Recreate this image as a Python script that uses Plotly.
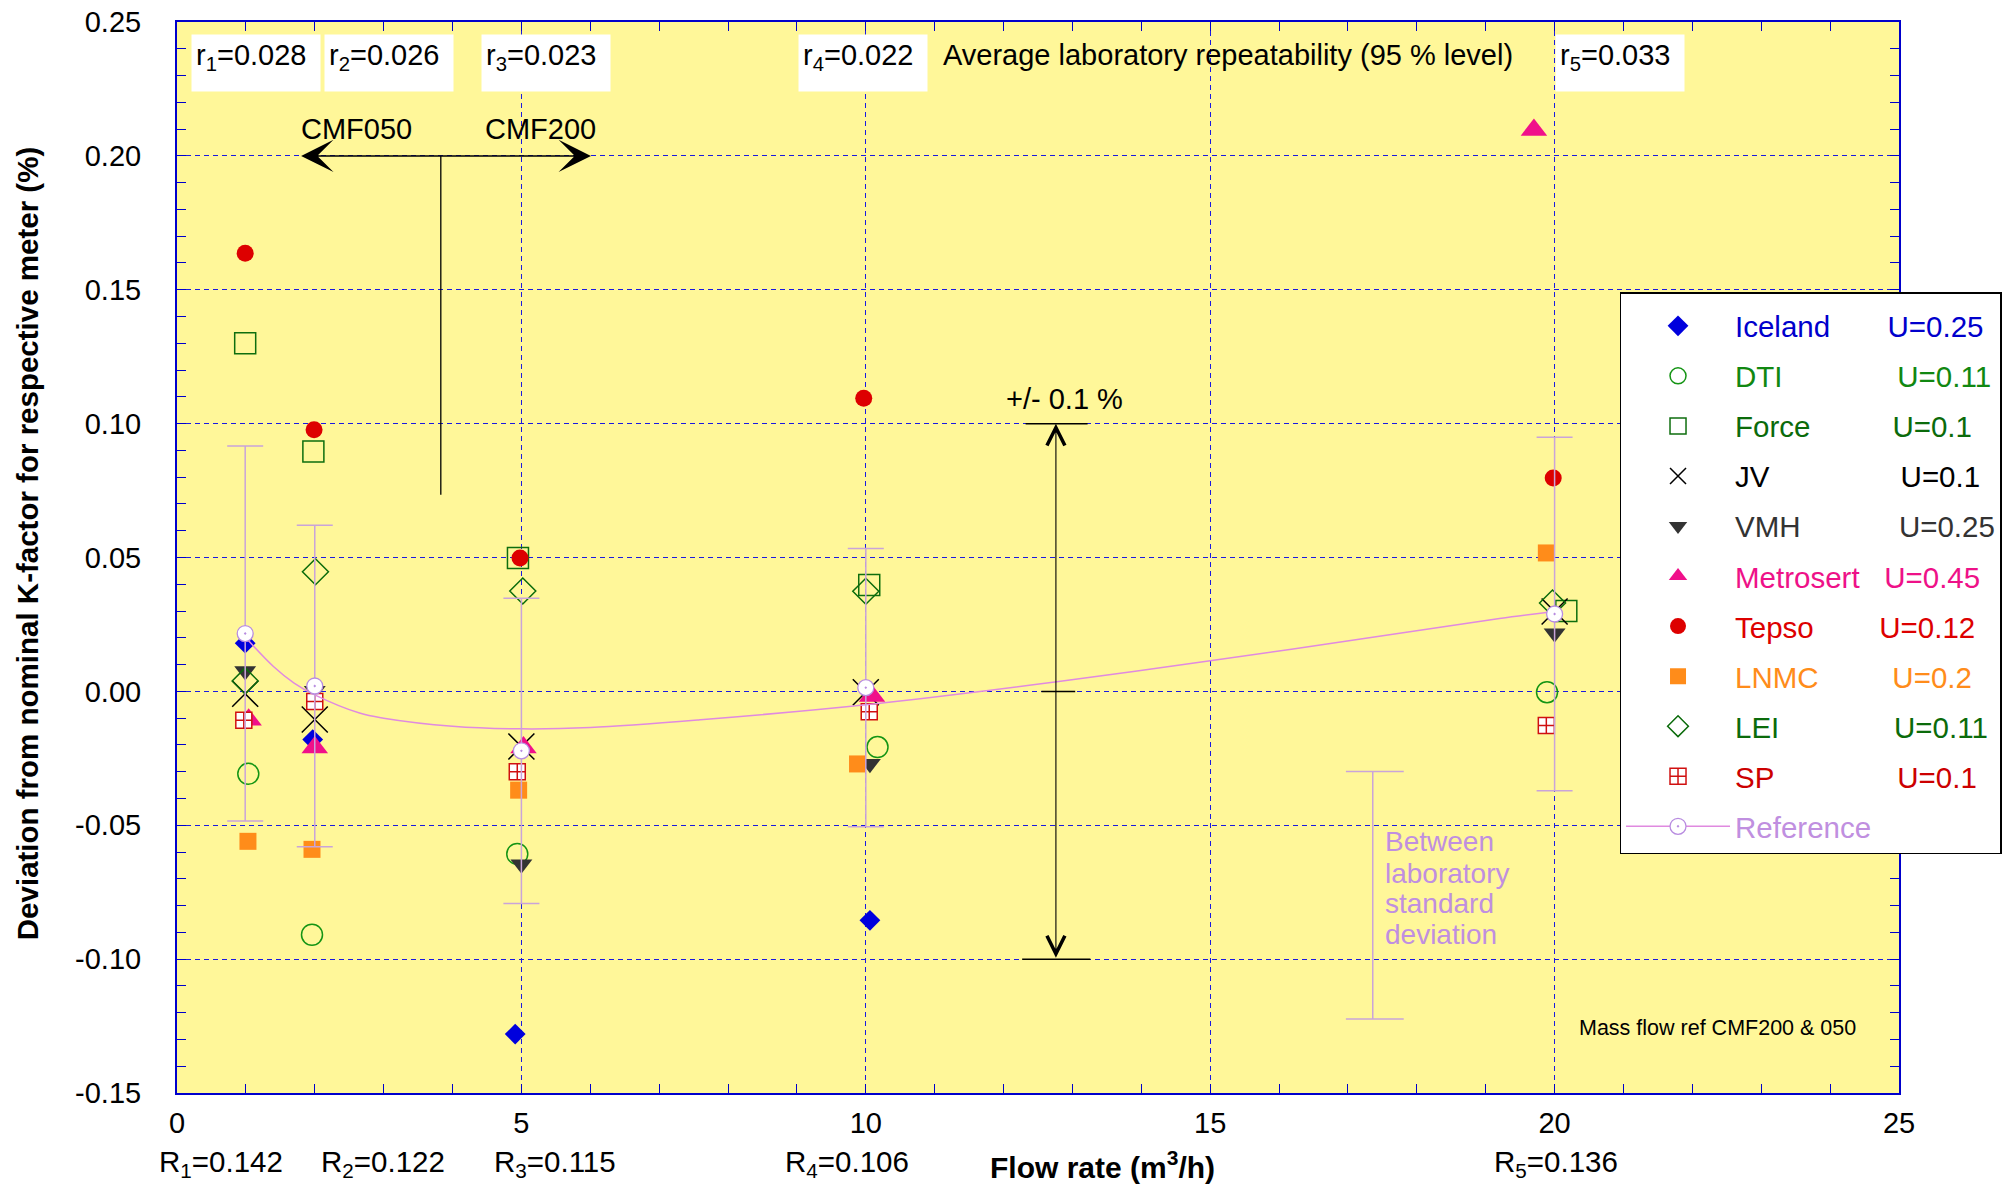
import plotly.graph_objects as go

FONT = "Liberation Sans, Arial, Helvetica, sans-serif"

# ---------------- data ----------------
labs = ["Iceland", "DTI", "Force", "JV", "VMH", "Metrosert", "Tepso", "LNMC", "LEI", "SP"]
lab_u = ["U=0.25", "U=0.11", "U=0.1", "U=0.1", "U=0.25", "U=0.45", "U=0.12", "U=0.2", "U=0.11", "U=0.1"]

iceland_x = [0.99, 1.97, 4.91, 10.06]
iceland_y = [0.018, -0.018, -0.128, -0.0855]
dti_x = [1.035, 1.96, 4.94, 10.17, 19.89]
dti_y = [-0.0308, -0.0909, -0.0607, -0.0208, -0.0003]
force_x = [0.99, 1.98, 4.95, 10.05, 20.17]
force_y = [0.130, 0.0896, 0.0498, 0.0397, 0.030]
jv_x = [0.99, 2.0, 5.0, 10.0, 20.0]
jv_y = [-0.0009, -0.0105, -0.0206, -0.0003, 0.0298]
vmh_x = [0.99, 2.0, 5.0, 10.06, 20.0]
vmh_y = [0.0076, 0.0002, -0.0646, -0.027, 0.0217]
metrosert_x = [1.04, 2.0, 5.03, 10.09, 19.70]
metrosert_y = [-0.0106, -0.021, -0.021, -0.0017, 0.2097]
tepso_x = [0.99, 1.99, 4.98, 9.97, 19.98]
tepso_y = [0.1636, 0.0977, 0.0498, 0.1095, 0.0797]
lnmc_x = [1.03, 1.96, 4.96, 9.88, 19.88]
lnmc_y = [-0.056, -0.059, -0.0369, -0.0271, 0.0517]
lei_x = [0.99, 2.01, 5.02, 10.0, 19.97]
lei_y = [0.0039, 0.0447, 0.0375, 0.0374, 0.033]
sp_x = [0.97, 2.0, 4.94, 10.05, 19.88]
sp_y = [-0.0108, -0.0038, -0.030, -0.0076, -0.0127]

ref_x = [0.99, 2.0, 5.0, 10.0, 20.0]
ref_y = [0.0216, 0.002, -0.0222, 0.0014, 0.0289]
ref_sd = [0.070, 0.060, 0.057, 0.052, 0.066]

curve_x = [1.0, 1.4, 1.7, 2.0, 2.65, 3.0, 4.0, 5.0, 6.0, 7.6, 10.0, 12.8, 15.0, 17.75, 19.2, 20.0]
curve_y = [0.020, 0.0093, 0.0031, -0.0013, -0.0081, -0.0100, -0.0130, -0.0140, -0.0135,
           -0.0106, -0.0050, 0.0037, 0.0114, 0.0217, 0.0272, 0.0298]

x_ticks = [0, 5, 10, 15, 20, 25]
x_ticktext = ["0", "5", "10", "15", "20", "25"]
y_ticks = [-0.15, -0.10, -0.05, 0.0, 0.05, 0.10, 0.15, 0.20, 0.25]
y_ticktext = ["-0.15", "-0.10", "-0.05", "0.00", "0.05", "0.10", "0.15", "0.20", "0.25"]

repeat_labels = ["r<sub>1</sub>=0.028", "r<sub>2</sub>=0.026", "r<sub>3</sub>=0.023",
                 "r<sub>4</sub>=0.022", "r<sub>5</sub>=0.033"]
repro_labels = ["R<sub>1</sub>=0.142", "R<sub>2</sub>=0.122", "R<sub>3</sub>=0.115",
                "R<sub>4</sub>=0.106", "R<sub>5</sub>=0.136"]

# ---------------- styles ----------------
series = [
    (iceland_x, iceland_y, dict(symbol="diamond", size=16, color="#0000DD", line=dict(width=0)), "#0000CC", 7),
    (dti_x, dti_y, dict(symbol="circle-open", size=21, color="#149414", line=dict(width=1.5)), "#118811", 14),
    (force_x, force_y, dict(symbol="square-open", size=21, color="#0E6E0E", line=dict(width=1.5)), "#0B6B0B", 10),
    (jv_x, jv_y, dict(symbol="x-thin-open", size=26, color="#000000", line=dict(width=1.5)), "#000000", 16),
    (vmh_x, vmh_y, dict(symbol="triangle-down", size=19, color="#333333", line=dict(width=0)), "#333333", 12),
    (metrosert_x, metrosert_y, dict(symbol="triangle-up", size=23, color="#F0108A", line=dict(width=0)), "#EE1188", 3),
    (tepso_x, tepso_y, dict(symbol="circle", size=17, color="#DD0000", line=dict(width=0)), "#DD0000", 8),
    (lnmc_x, lnmc_y, dict(symbol="square", size=17, color="#FF8C1A", line=dict(width=0)), "#FF8C1A", 9),
    (lei_x, lei_y, dict(symbol="diamond-open", size=20, color="#0B6B0B", line=dict(width=1.5)), "#0B6B0B", 14),
    (sp_x, sp_y, dict(symbol="square-cross", size=16, color="#FFFFFF", line=dict(width=1.5, color="#D01010")), "#CC0000", 15),
]
REF_LINE = "#E08AE0"
REF_MARK = "#B88CE0"
REF_ERR = "#C9A4DA"
REF_TEXT = "#C08FE0"
GRID = "#1A1AE0"
AXIS = "#0000CC"
BG = "#FFF799"
NB = "\u00a0"

fig = go.Figure()

for i, (xs, ys, mk, tcol, pad) in enumerate(series):
    fig.add_trace(go.Scatter(
        x=xs, y=ys, mode="markers", marker=mk,
        name=f"<span style='color:{tcol}'>{labs[i]}{NB * pad}{lab_u[i]}</span>",
        legendgroup=labs[i], cliponaxis=False,
    ))

# reference curve (fit)
fig.add_trace(go.Scatter(x=curve_x, y=curve_y, mode="lines", line=dict(color=REF_LINE, width=1.5, shape="spline"),
                         showlegend=False, hoverinfo="skip"))
# reference points with between-lab standard deviation
fig.add_trace(go.Scatter(
    x=ref_x, y=ref_y, mode="markers",
    marker=dict(symbol="circle-dot", size=16, color="#FFFFFF", line=dict(width=1.3, color=REF_MARK)),
    error_y=dict(type="data", array=ref_sd, visible=True, color=REF_ERR, thickness=1.5, width=18),
    showlegend=False,
))
# legend entry for reference
fig.add_trace(go.Scatter(
    x=[None], y=[None], mode="lines+markers",
    line=dict(color=REF_LINE, width=1.5),
    marker=dict(symbol="circle-dot", size=16, color="#FFFFFF", line=dict(width=1.3, color=REF_MARK)),
    name=f"<span style='color:{REF_TEXT}'>Reference</span>", legendgroup="Reference",
))

ann = []
# repeatability boxes at top
rep_x = [0.21, 2.13, 4.42, 9.01, 20.01]
for xx, t in zip(rep_x, repeat_labels):
    ann.append(dict(x=xx, y=0.2455, xref="x", yref="y", xanchor="left", yanchor="top", text=t,
                    showarrow=False, bgcolor="white", borderpad=4, width=120, height=48, align="left",
                    valign="top", font=dict(family=FONT, size=29, color="black")))
ann.append(dict(x=11.09, y=0.2375, xref="x", yref="y", xanchor="left", yanchor="middle",
                text="Average laboratory repeatability (95 % level)", showarrow=False,
                font=dict(family=FONT, size=29, color="black")))
# reproducibility labels below axis
repro_x = [-0.29, 2.06, 4.58, 8.80, 19.09]
for xx, t in zip(repro_x, repro_labels):
    ann.append(dict(x=xx / 25.0, y=-0.0465, xref="paper", yref="paper", xanchor="left", yanchor="top", text=t,
                    showarrow=False, font=dict(family=FONT, size=29.5, color="black")))
# CMF labels and arrow
ann.append(dict(x=2.61, y=0.2099, xref="x", yref="y", text="CMF050", showarrow=False,
                font=dict(family=FONT, size=29, color="black")))
ann.append(dict(x=5.28, y=0.2099, xref="x", yref="y", text="CMF200", showarrow=False,
                font=dict(family=FONT, size=29, color="black")))
ann.append(dict(x=6.01, y=0.2, ax=1.78, ay=0.2, xref="x", yref="y", axref="x", ayref="y", text="",
                showarrow=True, arrowside="end+start", arrowhead=3, startarrowhead=3, arrowsize=3.6,
                startarrowsize=3.6, arrowwidth=1.5, arrowcolor="black", standoff=0, startstandoff=0))
# +/- 0.1 % arrow
ann.append(dict(x=12.76, y=0.1, ax=12.76, ay=-0.1, xref="x", yref="y", axref="x", ayref="y", text="",
                showarrow=True, arrowside="end+start", arrowhead=5, startarrowhead=5, arrowsize=3.2,
                startarrowsize=3.2, arrowwidth=1.1, arrowcolor="black", standoff=0, startstandoff=0))
ann.append(dict(x=12.88, y=0.1093, xref="x", yref="y", text="+/- 0.1 %", showarrow=False,
                font=dict(family=FONT, size=29, color="black")))
# between laboratory standard deviation
bl_lines = ["Between", "laboratory", "standard", "deviation"]
bl_y = [-0.0561, -0.0679, -0.0793, -0.0909]
for t, yy in zip(bl_lines, bl_y):
    ann.append(dict(x=17.51, y=yy, xref="x", yref="y", xanchor="left", yanchor="middle", text=t,
                    showarrow=False, font=dict(family=FONT, size=28, color=REF_TEXT)))
ann.append(dict(x=22.37, y=-0.1256, xref="x", yref="y", text="Mass flow ref CMF200 & 050", showarrow=False,
                font=dict(family=FONT, size=21.5, color="black")))
# axis titles
ann.append(dict(x=-0.0975, y=0.513, xref="paper", yref="paper", textangle=-90, showarrow=False,
                text="<b>Deviation from nominal K-factor for respective meter (%)</b>",
                font=dict(family=FONT, size=29.5, color="black")))
ann.append(dict(x=13.44 / 25.0, y=-0.087, xref="paper", yref="paper", showarrow=False,
                text="<b>Flow rate (m<sup>3</sup>/h)</b>", font=dict(family=FONT, size=30, color="black")))

shapes = [
    dict(type="line", x0=3.83, x1=3.83, y0=0.0734, y1=0.2, xref="x", yref="y", line=dict(color="black", width=1.3)),
    dict(type="line", x0=12.32, x1=13.22, y0=0.1, y1=0.1, xref="x", yref="y", line=dict(color="black", width=1.5)),
    dict(type="line", x0=12.55, x1=13.04, y0=0.0, y1=0.0, xref="x", yref="y", line=dict(color="black", width=1.5)),
    dict(type="line", x0=12.27, x1=13.26, y0=-0.1, y1=-0.1, xref="x", yref="y", line=dict(color="black", width=1.5)),
    dict(type="line", x0=17.36, x1=17.36, y0=-0.0299, y1=-0.1224, xref="x", yref="y", line=dict(color=REF_ERR, width=1.5)),
    dict(type="line", x0=16.97, x1=17.81, y0=-0.0299, y1=-0.0299, xref="x", yref="y", line=dict(color=REF_ERR, width=1.5)),
    dict(type="line", x0=16.97, x1=17.81, y0=-0.1224, y1=-0.1224, xref="x", yref="y", line=dict(color=REF_ERR, width=1.5)),
]

fig.update_layout(
    width=2016, height=1187,
    margin=dict(l=177, r=117, t=22, b=94),
    paper_bgcolor="white", plot_bgcolor=BG,
    annotations=ann, shapes=shapes,
    showlegend=True,
    legend=dict(x=0.8377, y=0.7478, xanchor="left", yanchor="top", bgcolor="white",
                bordercolor="black", borderwidth=1.5, font=dict(family=FONT, size=29.5),
                itemwidth=104, tracegroupgap=8.7, traceorder="grouped",
                title=dict(text=NB, font=dict(family=FONT, size=5))),
    font=dict(family=FONT, size=29, color="black"),
)
fig.update_xaxes(
    range=[0, 25], tickvals=x_ticks, ticktext=x_ticktext, ticks="inside", ticklen=9, tickcolor=AXIS,
    tickwidth=1.2, showline=True, linecolor=AXIS, linewidth=2, mirror="ticks", automargin=False,
    showgrid=True, gridcolor=GRID, gridwidth=1.2, griddash="5px,4px", zeroline=False,
    tickfont=dict(family=FONT, size=29, color="black"), ticklabelstandoff=3,
    minor=dict(dtick=1, ticks="inside", ticklen=9, tickcolor=AXIS, tickwidth=1.2, showgrid=False),
)
fig.update_yaxes(
    range=[-0.15, 0.25], tickvals=y_ticks, ticktext=y_ticktext, ticks="inside", ticklen=9, tickcolor=AXIS,
    tickwidth=1.2, showline=True, linecolor=AXIS, linewidth=2, mirror="ticks", automargin=False,
    showgrid=True, gridcolor=GRID, gridwidth=1.2, griddash="5px,4px", zeroline=False,
    tickfont=dict(family=FONT, size=29, color="black"), ticklabelstandoff=28,
    minor=dict(dtick=0.01, tick0=0, ticks="inside", ticklen=9, tickcolor=AXIS, tickwidth=1.2, showgrid=False),
)

fig.write_html("out.html")
